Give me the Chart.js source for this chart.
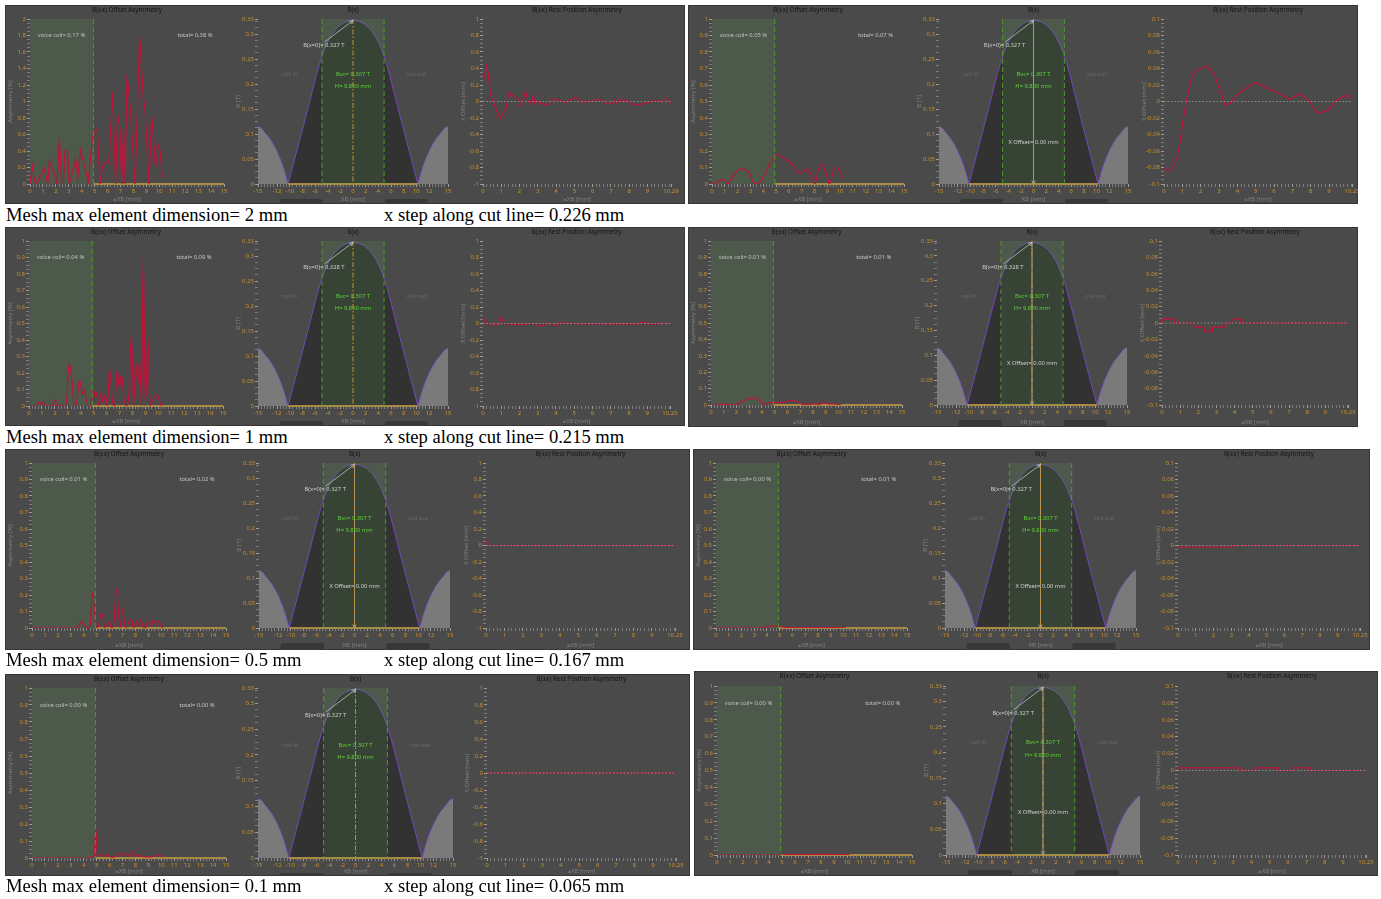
<!DOCTYPE html>
<html>
<head>
<meta charset="utf-8">
<title>B(x) asymmetry vs mesh size</title>
<script src="https://cdn.jsdelivr.net/npm/chart.js@4.4.0/dist/chart.umd.min.js"></script>
<style>
  body { margin: 0; background: #fff; width: 1381px; height: 899px; position: relative; overflow: hidden; }
  .panel { position: absolute; background: #4a4a4a; box-shadow: inset 0 0 0 1px #363636; }
  .panel canvas { position: absolute; top: 0; }
  .caption { position: absolute; font-family: "Liberation Serif", "Times New Roman", serif; font-size: 18.6px; line-height: 1; color: #000; white-space: nowrap; }
</style>
</head>
<body>
<script>
// order of the runs: row 1 left, row 1 right, row 2 left, ... row 4 right

// |B| along the cut line [T] (same field for every run)
const fieldLeftX = [-15, -14.5, -14, -13, -12, -11, -10.25];
const fieldLeftB = [0.115, 0.112, 0.104, 0.088, 0.065, 0.033, 0];
const fieldInX = [-10.25, -10, -9, -8, -7, -6, -5, -4, -3, -2, -1, 0, 1, 2, 3, 4, 5, 6, 7, 8, 9, 10, 10.25];
const fieldInB = [0, 0.012, 0.06, 0.108, 0.157, 0.207, 0.252, 0.284, 0.305, 0.318, 0.325, 0.327, 0.325, 0.318, 0.305, 0.284, 0.252, 0.207, 0.157, 0.108, 0.06, 0.012, 0];
const fieldRightX = [10.25, 11, 12, 13, 14, 14.5, 15];
const fieldRightB = [0, 0.033, 0.065, 0.088, 0.104, 0.112, 0.115];
const coilHalf = 4.9;     // H/2 [mm]
const fieldZero = 10.25;  // where B changes sign [mm]

// offset asymmetry [%] vs ±XB [mm]
const asym1LX = [0, 0.18, 0.34, 0.5, 1.1, 1.37, 1.5, 1.93, 2.06, 2.14, 2.27, 2.45, 2.58, 2.7, 2.9, 3.04, 3.55, 3.7, 3.9, 4.38, 4.5, 4.77, 4.9, 5.2, 5.41, 5.6, 5.8, 6.1, 6.39, 6.62, 6.78, 6.96, 7.09, 7.24, 7.35, 7.5, 7.73, 8.12, 8.48, 8.76, 8.9, 9.2, 9.41, 9.72, 9.92, 10.05, 10.23];
const asym1LY = [0, 0.22, 0.04, 0, 0.19, 0, 0.28, 0.12, 0, 0.16, 0.55, 0, 0, 0.4, 0.4, 0, 0.3, 0.08, 0.41, 0.12, 0, 0.48, 0.62, 0.67, 0, 0.2, 0.26, 0.26, 1.11, 0, 0.85, 0.67, 0, 0.67, 0, 1.33, 0.97, 0, 1.8, 1.05, 0.89, 0, 0.83, 0.2, 0.46, 0.4, 0.08];
const asym1RX = [0, 0.4, 0.75, 1.0, 1.22, 1.66, 2.18, 2.5, 2.96, 3.27, 3.6, 3.74, 4.39, 4.9, 5.17, 5.69, 6.16, 6.52, 6.86, 7.12, 7.38, 7.69, 8.03, 8.3, 8.55, 8.86, 9.19, 9.45, 9.71, 9.97, 10.23];
const asym1RY = [0, 0.012, 0.026, 0.02, 0, 0.05, 0.09, 0.09, 0.06, 0.004, 0, 0.01, 0.1, 0.17, 0.178, 0.15, 0.13, 0.09, 0.067, 0.075, 0.09, 0.07, 0, 0.08, 0.12, 0.08, 0, 0.07, 0.1, 0.08, 0.036];
const asym2LX = [0, 0.6, 0.77, 0.93, 1.1, 1.29, 1.75, 2.0, 2.15, 2.78, 2.9, 3.11, 3.29, 3.5, 3.68, 3.91, 4.11, 4.27, 4.42, 4.58, 4.78, 4.96, 5.14, 5.24, 5.4, 5.55, 5.71, 5.91, 6.04, 6.25, 6.43, 6.63, 6.81, 6.97, 7.15, 7.35, 7.53, 7.71, 7.92, 8.1, 8.25, 8.43, 8.56, 8.69, 8.84, 9.0, 9.2, 9.36, 9.59, 9.87, 10.13, 10.23];
const asym2LY = [0, 0, 0.024, 0.01, 0.024, 0, 0, 0.036, 0.006, 0, 0.024, 0.26, 0.18, 0, 0.02, 0.16, 0.07, 0.1, 0.04, 0, 0, 0.095, 0.05, 0.08, 0, 0.08, 0.02, 0.07, 0, 0.22, 0.04, 0, 0.22, 0.11, 0.19, 0.04, 0, 0.06, 0.43, 0, 0.26, 0.14, 0.28, 0, 0.905, 0, 0.41, 0, 0.04, 0.07, 0.02, 0];
const asym2RX = [0, 1.05, 1.83, 2.36, 3.01, 3.4, 3.8, 4.19, 4.58, 4.9, 5.5, 6.0, 6.41, 6.8, 7.2, 7.6, 8.1, 8.5, 8.9, 9.3, 9.7, 10.08, 10.26];
const asym2RY = [0, 0.004, 0, 0.018, 0.04, 0.043, 0.03, 0.004, 0.014, 0.014, 0.014, 0.022, 0.028, 0.018, 0.004, 0.004, 0.006, 0.004, 0.014, 0.006, 0.006, 0.002, 0];
const asym3LX = [0, 3.35, 3.6, 3.87, 4.12, 4.33, 4.51, 4.66, 4.82, 4.95, 5.15, 5.34, 5.46, 5.59, 5.8, 5.98, 6.13, 6.31, 6.52, 6.7, 6.83, 6.98, 7.14, 7.27, 7.47, 7.68, 7.86, 8.07, 8.25, 8.4, 8.58, 8.76, 8.97, 9.18, 9.38, 9.59, 9.79, 10.0, 10.1];
const asym3LY = [0, 0, 0.01, 0.04, 0.01, 0, 0.02, 0.215, 0.12, 0, 0.02, 0.087, 0.08, 0, 0.02, 0.04, 0, 0.01, 0.24, 0.08, 0, 0.115, 0.04, 0, 0.03, 0.055, 0, 0.04, 0.02, 0.05, 0.01, 0, 0.036, 0.014, 0.05, 0.02, 0.04, 0.01, 0];
const asym3RX = [0, 3.4, 3.9, 4.4, 4.8, 5.1, 5.5, 6.0, 6.6, 7.2, 7.8, 8.4, 9.0, 9.6, 10.2];
const asym3RY = [0, 0, 0.006, 0.012, 0.013, 0.008, 0.004, 0.002, 0.003, 0.002, 0.003, 0.002, 0.003, 0.002, 0.001];
const asym4LX = [0, 4.3, 4.6, 4.8, 4.94, 5.05, 5.3, 5.6, 5.8, 6.1, 6.4, 6.9, 7.1, 7.3, 7.6, 7.8, 8.0, 8.3, 8.6, 9.0, 9.4, 9.9, 10.1];
const asym4LY = [0, 0, 0.008, 0.01, 0.175, 0.01, 0.02, 0.01, 0.025, 0.005, 0.008, 0.03, 0.015, 0.025, 0.01, 0.04, 0.01, 0.015, 0.008, 0.006, 0.01, 0.02, 0.005];
const asym4RX = [0, 4.8, 5.2, 6, 7, 8, 9, 10.2];
const asym4RY = [0, 0, 0.003, 0.004, 0.003, 0.004, 0.003, 0.002];

// rest position offset [mm] vs ±XB [mm]
const rest1LX = [0, 0.22, 0.4, 0.92, 1.28, 1.41, 1.74, 1.92, 2.07, 2.34, 2.47, 2.56, 2.65, 2.75, 2.84, 2.97, 3.2, 3.53, 3.85, 4.21, 4.54, 4.85, 5.09, 5.46, 6.0, 6.41, 6.78, 7.05, 7.2, 7.33, 7.47, 7.88, 8.11, 8.57, 8.97, 9.43, 9.8, 10.03, 10.29];
const rest1LY = [0.235, 0.45, 0.09, -0.21, -0.07, 0.1, 0.06, 0.03, -0.05, 0.12, -0.01, 0.01, -0.02, 0.08, -0.03, 0.01, -0.02, -0.05, 0.03, 0.01, -0.01, 0.03, 0.05, -0.01, 0.01, 0.03, -0.03, -0.02, 0.02, -0.02, 0.02, 0.01, -0.03, -0.04, -0.01, 0.01, 0, 0.04, -0.02];
const rest1RX = [0, 0.09, 0.4, 0.55, 0.71, 0.86, 1.04, 1.22, 1.4, 1.55, 1.72, 2.04, 2.37, 2.54, 2.77, 3.05, 3.32, 3.63, 3.87, 4.14, 4.69, 4.96, 5.15, 5.46, 5.69, 5.97, 6.24, 6.51, 6.79, 7.06, 7.43, 7.7, 7.97, 8.16, 8.43, 8.76, 9.03, 9.34, 9.71, 10.02, 10.2];
const rest1RY = [-0.08, -0.084, -0.083, -0.076, -0.068, -0.051, -0.023, 0.001, 0.019, 0.032, 0.038, 0.04, 0.043, 0.038, 0.032, 0.013, -0.004, -0.002, 0.005, 0.011, 0.019, 0.023, 0.021, 0.019, 0.015, 0.013, 0.01, 0.007, 0.003, 0.005, 0.009, 0.004, -0.001, -0.009, -0.014, -0.012, -0.009, 0.001, 0.005, 0.008, 0.003];
const rest2LX = [0, 0.13, 0.58, 0.86, 0.99, 1.13, 1.59, 2.04, 2.59, 2.85, 3.1, 3.32, 3.69, 3.96, 4.2, 4.96, 5.5, 6.2, 7.0, 7.7, 8.3, 8.89, 9.12, 9.71, 10.25];
const rest2LY = [0.1, 0, -0.01, -0.01, 0.08, 0, -0.01, -0.01, 0, 0, -0.04, -0.01, 0, -0.03, 0.01, 0, -0.005, 0, -0.005, -0.005, -0.008, 0.02, -0.01, 0, 0];
const rest2RX = [0, 0.02, 0.68, 1.75, 2.32, 2.78, 3.47, 3.92, 4.32, 10.25];
const rest2RY = [0.005, 0, 0.005, 0, -0.005, -0.01, -0.005, 0, 0.005, 0];
const rest3LX = [0, 0.1, 10.25];
const rest3LY = [0.06, 0, 0];
const rest3RX = [0, 3.05, 9.1, 10.25];
const rest3RY = [0, -0.002, 0, 0];
const rest4LX = [0, 0.07, 10.25];
const rest4LY = [-0.02, 0, 0];
const rest4RX = [0, 3.4, 4.2, 5.5, 6.3, 7.2, 8.5, 10.25];
const rest4RY = [0, 0.003, 0, 0.003, 0, 0.003, 0, 0];

// printed results per run
const voiceCoilPct = ['0.17', '0.05', '0.04', '0.01', '0.01', '0.00', '0.00', '0.00'];
const totalPct = ['0.38', '0.07', '0.09', '0.01', '0.02', '0.01', '0.00', '0.00'];
const bAtZero = ['0.327', '0.327', '0.328', '0.328', '0.327', '0.327', '0.327', '0.327'];
const bVoiceCoil = '0.307';
const coilHeight = '9.800';
const restXMax = [10.29, 10.25, 10.25, 10.25, 10.25, 10.25, 10.25, 10.25];
const asymYMax = [2, 1, 1, 1, 1, 1, 1, 1];
const restYMax = [1, 0.1, 1, 0.1, 1, 0.1, 1, 0.1];
const showXOffset = [false, true, false, true, true, true, false, true];
const restStepped = [false, false, false, true, false, true, false, true];
const asymSmooth = [false, true, true, true, true, true, true, true];

const meshSizes = ['2', '1', '0.5', '0.1'];
const xSteps = ['0.226', '0.215', '0.167', '0.065'];

const asymX = [asym1LX, asym1RX, asym2LX, asym2RX, asym3LX, asym3RX, asym4LX, asym4RX];
const asymY = [asym1LY, asym1RY, asym2LY, asym2RY, asym3LY, asym3RY, asym4LY, asym4RY];
const restX = [rest1LX, rest1RX, rest2LX, rest2RX, rest3LX, rest3RX, rest4LX, rest4RX];
const restY = [rest1LY, rest1RY, rest2LY, rest2RY, rest3LY, rest3RY, rest4LY, rest4RY];

// panel boxes and plot areas on the page
const layout = [
  { box: [5, 5, 685, 204], plotY: [19, 184], plotX: [[30, 224], [258, 448], [483, 671]] },
  { box: [688, 5, 1358, 204], plotY: [19, 184], plotX: [[712, 904], [939, 1128], [1164, 1352]] },
  { box: [5, 227, 685, 426], plotY: [241, 406], plotX: [[29, 223], [258, 448], [483, 670]] },
  { box: [688, 227, 1358, 427], plotY: [241, 405], plotX: [[711, 902], [937, 1127], [1162, 1348]] },
  { box: [5, 449, 690, 650], plotY: [463, 628], plotX: [[32, 226], [259, 450], [486, 675]] },
  { box: [693, 449, 1370, 650], plotY: [463, 628], plotX: [[716, 907], [945, 1136], [1178, 1360]] },
  { box: [5, 674, 690, 876], plotY: [688, 858], plotX: [[32, 226], [258, 453], [487, 676]] },
  { box: [694, 671, 1378, 876], plotY: [686, 855], plotX: [[717, 912], [946, 1140], [1178, 1366]] }
];
const captionBaseline = [222, 444, 667, 893];

const RED = '#c0143a';
const ORANGE = '#c8912f';
const GOLD = '#a88a42';
const DASH_GREEN = '#4e9a2b';
const TEXT_GREEN = '#5fd33a';
const SHADE = 'rgba(100, 200, 75, 0.12)';
const FONT = '"Noto Sans", "DejaVu Sans", sans-serif';

function fmt(v) { return String(parseFloat(v.toFixed(4))); }

function tickValues(min, max, minor, majors) {
  const vals = [];
  const n = Math.round((max - min) / minor);
  for (let i = 0; i <= n; i++) {
    const v = +(min + i * minor).toFixed(6);
    if (v <= max + 1e-9) vals.push(v);
  }
  majors.forEach(m => { if (!vals.some(v => Math.abs(v - m) < 1e-6)) vals.push(m); });
  return vals.sort((a, b) => a - b);
}

function range(from, to, step) {
  const out = [];
  for (let v = from; v <= to + 1e-9; v += step) out.push(+v.toFixed(6));
  return out;
}

function axis({ pos, min, max, minor, majors, size, title }) {
  const isMajor = v => majors.some(m => Math.abs(m - v) < 1e-6);
  const horiz = pos === 'bottom';
  return {
    type: 'linear', position: pos, min, max,
    afterBuildTicks: s => { s.ticks = tickValues(min, max, minor, majors).map(value => ({ value })); },
    afterFit: s => {
      if (horiz) s.height = size; else s.width = size;
      s.paddingLeft = s.paddingRight = s.paddingTop = s.paddingBottom = 0;
    },
    ticks: {
      autoSkip: false, maxRotation: 0, color: ORANGE, padding: 1,
      font: { family: FONT, size: 6 },
      callback: v => isMajor(v) ? fmt(v) : ''
    },
    grid: {
      drawOnChartArea: false, drawTicks: true, tickLength: 3,
      tickColor: c => isMajor(c.tick.value) ? '#9d9d9d' : '#7c7c7c'
    },
    border: { display: false },
    title: {
      display: true, text: title, color: '#808080',
      font: { family: FONT, size: 6 },
      padding: horiz ? { top: 0, bottom: 1 } : { top: 2, bottom: 0 }
    }
  };
}

function label(ctx, str, x, y, color, align, size) {
  ctx.save();
  ctx.font = `${size || 5.8}px ${FONT}`;
  ctx.fillStyle = color;
  ctx.textAlign = align || 'center';
  ctx.textBaseline = 'middle';
  ctx.fillText(str, x, y);
  ctx.restore();
}

function arrow(ctx, x1, y1, x2, y2, color) {
  const ang = Math.atan2(y2 - y1, x2 - x1);
  const head = 4;
  ctx.save();
  ctx.strokeStyle = color;
  ctx.lineWidth = 0.8;
  ctx.beginPath();
  ctx.moveTo(x1, y1);
  ctx.lineTo(x2, y2);
  ctx.moveTo(x2 - head * Math.cos(ang - 0.45), y2 - head * Math.sin(ang - 0.45));
  ctx.lineTo(x2, y2);
  ctx.lineTo(x2 - head * Math.cos(ang + 0.45), y2 - head * Math.sin(ang + 0.45));
  ctx.stroke();
  ctx.restore();
}

function vDashed(ctx, x, top, bottom, color, dash, width) {
  ctx.save();
  ctx.strokeStyle = color;
  ctx.lineWidth = width || 1;
  ctx.setLineDash(dash);
  ctx.beginPath();
  ctx.moveTo(x, top);
  ctx.lineTo(x, bottom);
  ctx.stroke();
  ctx.restore();
}

function chartTitle(chart, text) {
  const a = chart.chartArea;
  label(chart.ctx, text, (a.left + a.right) / 2, 5, '#141414', 'center', 6.3);
}

function pts(xs, ys) { return xs.map((x, i) => ({ x, y: ys[i] })); }

function baseOptions(xAxis, yAxis, padTop, padRight) {
  return {
    responsive: false, animation: false, events: [],
    layout: { padding: { top: padTop, right: padRight, left: 0, bottom: 0 } },
    plugins: { legend: { display: false }, tooltip: { enabled: false } },
    scales: { x: xAxis, y: yAxis },
    elements: { point: { radius: 0 } }
  };
}

// left chart: offset asymmetry
function asymChart(cv, k, g) {
  const ymax = asymYMax[k];
  const majorStep = ymax > 1 ? 0.2 : 0.1;
  const xAxis = axis({ pos: 'bottom', min: 0, max: 15, minor: 0.25, majors: range(0, 15, 1), size: g.xH, title: '\u00b1XB [mm]' });
  const yAxis = axis({ pos: 'left', min: 0, max: ymax, minor: majorStep / 4, majors: range(0, ymax, majorStep), size: g.yW, title: 'Asymmetry [%]' });
  new Chart(cv, {
    type: 'line',
    data: {
      datasets: [
        { data: pts(asymX[k], asymY[k]), borderColor: RED, borderWidth: 1.2, cubicInterpolationMode: asymSmooth[k] ? 'monotone' : 'default', tension: 0 },
        { data: [{ x: coilHalf, y: 0 }, { x: 15, y: 0 }], borderColor: GOLD, borderWidth: 2.2, clip: false }
      ]
    },
    options: baseOptions(xAxis, yAxis, g.padT, g.padR),
    plugins: [{
      id: 'asymDecor',
      beforeDatasetsDraw(chart) {
        const { ctx, chartArea: a, scales: { x } } = chart;
        const xe = x.getPixelForValue(coilHalf);
        ctx.save();
        ctx.fillStyle = SHADE;
        ctx.fillRect(a.left, a.top, xe - a.left, a.bottom - a.top);
        ctx.restore();
      },
      afterDatasetsDraw(chart) {
        const { ctx, chartArea: a, scales: { x, y } } = chart;
        vDashed(ctx, x.getPixelForValue(coilHalf), a.top, a.bottom, DASH_GREEN, [5, 3], 1);
        const ly = y.getPixelForValue(ymax * 0.9);
        label(ctx, `voice coil= ${voiceCoilPct[k]} %`, x.getPixelForValue(0.6), ly, '#c4c4c4', 'left');
        label(ctx, `total= ${totalPct[k]} %`, x.getPixelForValue(11.4), ly, '#c4c4c4', 'left');
      },
      afterDraw(chart) { chartTitle(chart, 'B(\u00b1x) Offset Asymmetry'); }
    }]
  });
}

// middle chart: field along the cut line
function fieldChart(cv, k, g) {
  const xAxis = axis({ pos: 'bottom', min: -15, max: 15, minor: 0.5, majors: [-15, -12, -10, -8, -6, -4, -2, 0, 2, 4, 6, 8, 10, 12, 15], size: g.xH, title: 'XB [mm]' });
  const yAxis = axis({ pos: 'left', min: 0, max: 0.33, minor: 0.0125, majors: [0, 0.05, 0.1, 0.15, 0.2, 0.25, 0.3, 0.33], size: g.yW, title: 'B [T]' });
  const edge = { borderColor: '#7d4bd0', borderWidth: 0.8, cubicInterpolationMode: 'monotone', fill: 'origin' };
  new Chart(cv, {
    type: 'line',
    data: {
      datasets: [
        { data: [{ x: -fieldZero, y: 0 }, { x: fieldZero, y: 0 }], borderColor: GOLD, borderWidth: 2.2, clip: false },
        Object.assign({ data: pts(fieldInX, fieldInB), backgroundColor: '#323232' }, edge),
        Object.assign({ data: pts(fieldLeftX, fieldLeftB), backgroundColor: '#7a7a7a' }, edge),
        Object.assign({ data: pts(fieldRightX, fieldRightB), backgroundColor: '#7a7a7a' }, edge)
      ]
    },
    options: baseOptions(xAxis, yAxis, g.padT, g.padR),
    plugins: [{
      id: 'fieldDecor',
      afterDatasetsDraw(chart) {
        const { ctx, chartArea: a, scales: { x, y } } = chart;
        const xl = x.getPixelForValue(-coilHalf), xr = x.getPixelForValue(coilHalf), x0 = x.getPixelForValue(0);
        ctx.save();
        ctx.fillStyle = SHADE;
        ctx.fillRect(xl, a.top, xr - xl, a.bottom - a.top);
        ctx.restore();
        vDashed(ctx, xl, a.top, a.bottom, DASH_GREEN, [5, 3], 1);
        vDashed(ctx, xr, a.top, a.bottom, DASH_GREEN, [5, 3], 1);
        if (showXOffset[k]) {
          arrow(ctx, x0, y.getPixelForValue(0.327), x0, a.bottom, '#b4b4b4');
        }
        vDashed(ctx, x0, a.top, a.bottom, ORANGE, [5, 2, 1.5, 2], 1);
        const py = y.getPixelForValue(0.219);
        label(ctx, 'coil in', x.getPixelForValue(-10), py, '#6b6b6b');
        label(ctx, 'coil out', x.getPixelForValue(10), py, '#6b6b6b');
        label(ctx, `Bvc= ${bVoiceCoil} T`, x0, py, TEXT_GREEN);
        label(ctx, `H= ${coilHeight} mm`, x0, y.getPixelForValue(0.195), TEXT_GREEN);
        arrow(ctx, x.getPixelForValue(-4.5), y.getPixelForValue(0.284), x0, y.getPixelForValue(0.327), '#c0c0c0');
        label(ctx, `B(x=0)= ${bAtZero[k]} T`, x.getPixelForValue(-4.6), y.getPixelForValue(0.277), '#cfcfcf');
        if (showXOffset[k]) {
          label(ctx, 'X Offset= 0.00 mm', x0, y.getPixelForValue(0.083), '#cfcfcf');
        }
      },
      afterDraw(chart) {
        const { ctx, chartArea: a, scales: { x } } = chart;
        chartTitle(chart, 'B(x)');
        ctx.save();
        ctx.fillStyle = '#383838';
        const top = a.bottom + 15;
        [[-11.6, -4.8], [5.0, 11.8]].forEach(([u, v]) => {
          const l = x.getPixelForValue(u), r = x.getPixelForValue(v);
          ctx.beginPath();
          ctx.roundRect(l, top, r - l, 8, 2);
          ctx.fill();
        });
        ctx.restore();
      }
    }]
  });
}

// right chart: rest position asymmetry
function restChart(cv, k, g) {
  const xmax = restXMax[k], ymax = restYMax[k];
  const step = ymax / 5;
  const xAxis = axis({ pos: 'bottom', min: 0, max: xmax, minor: 0.2, majors: range(0, 9, 1).concat([xmax]), size: g.xH, title: '\u00b1XB [mm]' });
  const yAxis = axis({ pos: 'left', min: -ymax, max: ymax, minor: step / 4, majors: range(-ymax, ymax, step), size: g.yW, title: 'X Offset [mm]' });
  new Chart(cv, {
    type: 'line',
    data: {
      datasets: [
        { data: pts(restX[k], restY[k]), borderColor: RED, borderWidth: 1.2, stepped: restStepped[k] ? 'after' : false, tension: 0 }
      ]
    },
    options: baseOptions(xAxis, yAxis, g.padT, g.padR),
    plugins: [{
      id: 'restDecor',
      afterDatasetsDraw(chart) {
        const { ctx, scales: { x, y } } = chart;
        const y0 = y.getPixelForValue(0);
        ctx.save();
        ctx.strokeStyle = '#8e8e8e';
        ctx.lineWidth = 1;
        ctx.setLineDash([1.5, 2]);
        ctx.beginPath();
        ctx.moveTo(x.getPixelForValue(0), y0);
        ctx.lineTo(x.getPixelForValue(xmax), y0);
        ctx.stroke();
        ctx.restore();
      },
      afterDraw(chart) { chartTitle(chart, 'B(\u00b1x) Rest Position Asymmetry'); }
    }]
  });
}

const builders = [asymChart, fieldChart, restChart];

layout.forEach((p, k) => {
  const [l, t, r, b] = p.box;
  const div = document.createElement('div');
  div.className = 'panel';
  Object.assign(div.style, { left: l + 'px', top: t + 'px', width: (r - l) + 'px', height: (b - t) + 'px' });
  document.body.appendChild(div);

  const s1 = Math.round(p.plotX[1][0] - 25), s2 = Math.round(p.plotX[2][0] - 25);
  const cuts = [[l, s1], [s1, s2], [s2, r]];
  cuts.forEach(([c0, c1], i) => {
    const cv = document.createElement('canvas');
    cv.width = c1 - c0;
    cv.height = b - t;
    cv.style.left = (c0 - l) + 'px';
    div.appendChild(cv);
    builders[i](cv, k, {
      yW: p.plotX[i][0] - c0,
      padR: c1 - p.plotX[i][1],
      padT: p.plotY[0] - t,
      xH: b - p.plotY[1]
    });
  });
});

// captions under the left column
meshSizes.forEach((m, i) => {
  const top = captionBaseline[i] - 15.6;
  const a = document.createElement('div');
  a.className = 'caption';
  a.style.left = '6px';
  a.style.top = top + 'px';
  a.textContent = `Mesh max element dimension= ${m} mm`;
  document.body.appendChild(a);
  const s = document.createElement('div');
  s.className = 'caption';
  s.style.left = '384px';
  s.style.top = top + 'px';
  s.textContent = `x step along cut line= ${xSteps[i]} mm`;
  document.body.appendChild(s);
});
</script>
</body>
</html>
